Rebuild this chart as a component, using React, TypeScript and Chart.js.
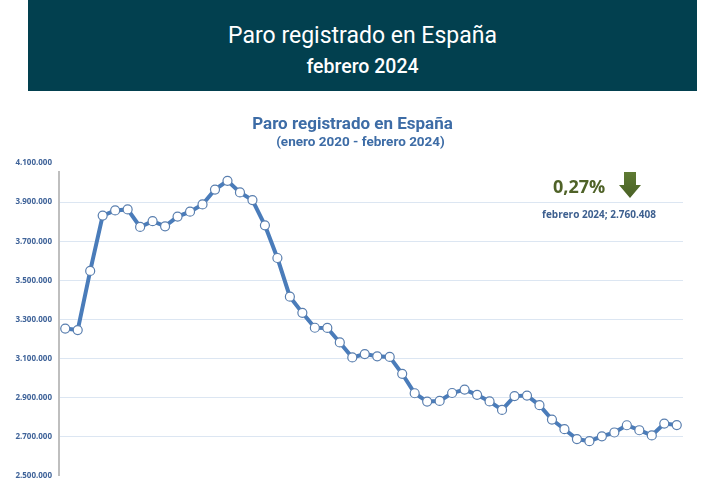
import React, { useEffect, useRef } from "react";
import { Chart, registerables } from "chart.js";

Chart.register(...registerables);

const months = [
  "ene 2020", "feb 2020", "mar 2020", "abr 2020", "may 2020", "jun 2020", "jul 2020", "ago 2020", "sep 2020", "oct 2020", "nov 2020", "dic 2020",
  "ene 2021", "feb 2021", "mar 2021", "abr 2021", "may 2021", "jun 2021", "jul 2021", "ago 2021", "sep 2021", "oct 2021", "nov 2021", "dic 2021",
  "ene 2022", "feb 2022", "mar 2022", "abr 2022", "may 2022", "jun 2022", "jul 2022", "ago 2022", "sep 2022", "oct 2022", "nov 2022", "dic 2022",
  "ene 2023", "feb 2023", "mar 2023", "abr 2023", "may 2023", "jun 2023", "jul 2023", "ago 2023", "sep 2023", "oct 2023", "nov 2023", "dic 2023",
  "ene 2024", "feb 2024",
];

const paro = [
  3253853, 3246047, 3548312, 3831203, 3857776, 3862883, 3773034, 3802814, 3776485, 3826043, 3851312, 3888137,
  3964353, 4008789, 3949640, 3910628, 3781250, 3614339, 3416498, 3333915, 3257802, 3257068, 3182687, 3105905,
  3123078, 3111684, 3108763, 3022503, 2922991, 2880582, 2883812, 2924240, 2941919, 2914892, 2881380, 2837653,
  2908397, 2911015, 2862260, 2788370, 2739110, 2688842, 2677874, 2702700, 2722468, 2759404, 2733972, 2707456,
  2767860, 2760408,
];

const yMin = 2500000;
const yMax = 4100000;
const yStep = 200000;

const headerTitle = "Paro registrado en España";
const headerSub = "febrero 2024";
const chartTitle = "Paro registrado en España";
const chartSub = "(enero 2020 - febrero 2024)";
const variation = "0,27%";
const lastLabel = "febrero 2024";

const fmt = (v: number) => Math.round(v).toString().replace(/\B(?=(\d{3})+(?!\d))/g, ".");

const overlay = {
  id: "overlay",
  afterDraw(chart: any) {
    const ctx = chart.ctx;
    const ca = chart.chartArea;
    const W = chart.width;
    ctx.save();
    // titles
    ctx.textAlign = "center";
    ctx.textBaseline = "middle";
    ctx.fillStyle = "#3D6CA6";
    ctx.font = "bold 17px Roboto";
    ctx.fillText(chartTitle, W / 2 - 5, ca.top - 38);
    ctx.font = "bold 13.5px Roboto";
    ctx.fillText(chartSub, W / 2 + 3, ca.top - 20);

    // axis line
    ctx.strokeStyle = "#BFBFBF";
    ctx.lineWidth = 2;
    ctx.beginPath();
    ctx.moveTo(ca.left, ca.top + 8);
    ctx.lineTo(ca.left, ca.bottom);
    ctx.stroke();

    // variation annotation
    const r = ca.right;
    ctx.textAlign = "left";
    ctx.textBaseline = "alphabetic";
    ctx.fillStyle = "#4F6228";
    ctx.font = "bold 18px 'Open Sans'";
    ctx.fillText(variation, r - 130, ca.top + 30);

    // arrow
    const ax = r - 53;
    const at = ca.top + 9;
    const grad = ctx.createLinearGradient(0, at, 0, at + 26);
    grad.addColorStop(0, "#5E7A33");
    grad.addColorStop(1, "#4A6126");
    ctx.fillStyle = grad;
    ctx.beginPath();
    ctx.moveTo(ax - 6, at);
    ctx.lineTo(ax + 6, at);
    ctx.lineTo(ax + 6, at + 13);
    ctx.lineTo(ax + 11, at + 13);
    ctx.lineTo(ax, at + 26);
    ctx.lineTo(ax - 11, at + 13);
    ctx.lineTo(ax - 6, at + 13);
    ctx.closePath();
    ctx.fill();

    ctx.textAlign = "center";
    ctx.textBaseline = "middle";
    ctx.fillStyle = "#3D5F8F";
    ctx.font = "bold 10px 'Open Sans'";
    ctx.fillText(lastLabel + "; " + fmt(paro[paro.length - 1]), r - 84, ca.top + 52);
    ctx.restore();
  },
};

export default function App() {
  const ref = useRef<HTMLCanvasElement | null>(null);
  useEffect(() => {
    document.body.style.margin = "0";
    let chart: any = null;
    let cancelled = false;
    const build = () => {
      if (cancelled || !ref.current) return;
      chart = new Chart(ref.current as HTMLCanvasElement, {
        type: "line",
        data: {
          labels: months,
          datasets: [
            {
              data: paro,
              borderColor: "#4A7CBA",
              borderWidth: 4,
              pointRadius: 4.5,
              pointBackgroundColor: "#FFFFFF",
              pointBorderColor: "#5A7FAF",
              pointBorderWidth: 1.2,
              tension: 0,
            },
          ],
        },
        options: {
          animation: false,
          responsive: false,
          maintainAspectRatio: false,
          layout: { padding: { top: 163, bottom: 16, left: 0, right: 32 } },
          plugins: { legend: { display: false }, tooltip: { enabled: false }, title: { display: false } },
          scales: {
            x: { type: "category", display: false, offset: true },
            y: {
              min: yMin,
              max: yMax,
              border: { display: false },
              grid: {
                drawTicks: false,
                color: (c: any) => (c.tick && (c.tick.value === yMin || c.tick.value === yMax) ? "rgba(0,0,0,0)" : "#DCE6F2"),
                lineWidth: 1,
              },
              ticks: {
                stepSize: yStep,
                padding: 7,
                color: "#3F6399",
                font: { family: "'Open Sans'", size: 8, weight: "bold" },
                callback: (v: any) => fmt(Number(v)),
              },
              afterFit: (s: any) => {
                s.width = 59;
              },
            },
          },
        },
        plugins: [overlay],
      } as any);
    };
    const fonts = (document as any).fonts;
    if (fonts && fonts.load) {
      Promise.all([
        fonts.load("bold 10px 'Open Sans'"),
        fonts.load("bold 17px Roboto"),
        fonts.load("17px Roboto"),
      ])
        .catch(() => null)
        .then(build);
    } else {
      build();
    }
    return () => {
      cancelled = true;
      if (chart) chart.destroy();
    };
  }, []);

  return (
    <div style={{ position: "relative", width: 715, height: 492, background: "#FFFFFF", overflow: "hidden" }}>
      <canvas ref={ref} width={715} height={492} style={{ position: "absolute", left: 0, top: 0, width: 715, height: 492 }} />
      <div
        style={{
          position: "absolute",
          left: 28,
          top: 0,
          width: 669,
          height: 91,
          background: "#02404F",
          color: "#FFFFFF",
          fontFamily: "Roboto",
          textAlign: "center",
        }}
      >
        <div style={{ position: "absolute", left: 0, right: 0, top: 22, fontSize: 23, lineHeight: "28px" }}>{headerTitle}</div>
        <div style={{ position: "absolute", left: 0, right: 0, top: 55, fontSize: 19.5, lineHeight: "24px", fontWeight: 500 }}>{headerSub}</div>
      </div>
    </div>
  );
}
